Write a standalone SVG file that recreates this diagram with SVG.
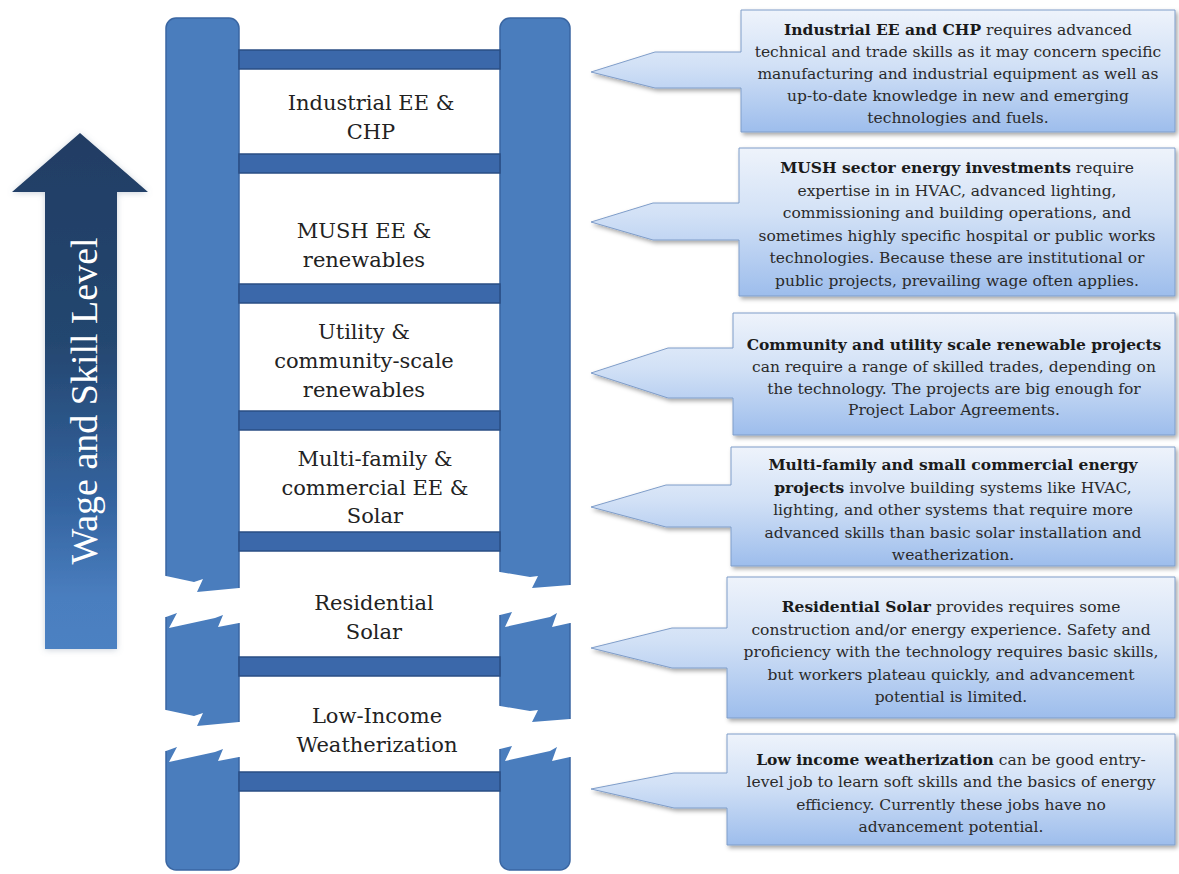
<svg xmlns="http://www.w3.org/2000/svg" width="1179" height="874" viewBox="0 0 1179 874">
<defs>
<linearGradient id="arrowGrad" gradientUnits="userSpaceOnUse" x1="0" y1="133" x2="0" y2="649">
<stop offset="0" stop-color="#203d64"/>
<stop offset="0.4" stop-color="#24466f"/>
<stop offset="0.72" stop-color="#3464a0"/>
<stop offset="0.9" stop-color="#4a7ebf"/>
<stop offset="1" stop-color="#4c81c2"/>
</linearGradient>
<linearGradient id="calloutGrad" x1="0" y1="0" x2="0" y2="1">
<stop offset="0" stop-color="#eef3fb"/>
<stop offset="0.45" stop-color="#d2e1f6"/>
<stop offset="1" stop-color="#9dbdec"/>
</linearGradient>
<filter id="shadow" x="-5%" y="-5%" width="115%" height="125%">
<feDropShadow dx="2" dy="2.5" stdDeviation="2" flood-color="#000" flood-opacity="0.35"/>
</filter>
<filter id="glow" x="-20%" y="-10%" width="140%" height="120%">
<feDropShadow dx="0" dy="1" stdDeviation="3" flood-color="#6b7f99" flood-opacity="0.35"/>
</filter>
</defs>
<style>
.rail{fill:#4a7dbd;stroke:#3a66a2;stroke-width:1.5}
.rung{fill:#3b68aa;stroke:#2a4e84;stroke-width:1.5}
.panel{fill:#ffffff}
.brk{fill:#ffffff}
.lbl{font-family:"DejaVu Serif",serif;font-size:21px;fill:#222;text-anchor:middle}
.co{fill:url(#calloutGrad);stroke:#7f9dc9;stroke-width:1;filter:url(#shadow)}
.ct{font-family:"DejaVu Serif",serif;font-size:15.5px;fill:#2a2a2a;text-anchor:middle}
.b{font-weight:bold;fill:#1a1a1a}
.axis{font-family:"Liberation Serif",serif;font-size:38px;fill:#ffffff;text-anchor:middle}
</style>
<rect width="1179" height="874" fill="#ffffff"/>

<g id="skill-arrow">
<path d="M80,133 L148,192 L117,192 L117,649 L45,649 L45,192 L12,192 Z" fill="url(#arrowGrad)" filter="url(#glow)"/>
<text class="axis" transform="translate(97,401) rotate(-90)">Wage and Skill Level</text>
</g>

<g id="ladder">
<rect class="rail" x="166" y="18" width="73" height="852" rx="10"/>
<rect class="rail" x="500" y="18" width="70" height="852" rx="10"/>
<path class="brk" d="M160,575 L166,576 L194,582 L203,579 L197,592 L239,588 L246,588 L246,623 L239,623 L218,627 L223,615 L215,618 L169,628 L177,613 L166,617 L160,617 Z"/>
<path class="brk" d="M494,571 L500,572 L530,577 L538,576 L532,588 L570,585 L576,585 L576,623 L570,623 L552,627 L557,613 L550,617 L505,627 L512,612 L500,615 L494,615 Z"/>
<path class="brk" d="M160,709 L166,710 L194,716 L203,713 L197,726 L239,722 L246,722 L246,757 L239,757 L218,761 L223,749 L215,752 L169,762 L177,747 L166,751 L160,751 Z"/>
<path class="brk" d="M494,705 L500,706 L530,711 L538,710 L532,722 L570,719 L576,719 L576,757 L570,757 L552,761 L557,747 L550,751 L505,761 L512,746 L500,749 L494,749 Z"/>
</g>

<g id="connectors">
<rect class="rung" x="239" y="50" width="261" height="19"/>
<rect class="rung" x="239" y="154" width="261" height="19"/>
<rect class="rung" x="239" y="284" width="261" height="19"/>
<rect class="rung" x="239" y="411" width="261" height="19"/>
<rect class="rung" x="239" y="532" width="261" height="19"/>
<rect class="rung" x="239" y="657" width="261" height="19"/>
<rect class="rung" x="239" y="772" width="261" height="19"/>
</g>

<g id="step-industrial">
<rect class="panel" x="240" y="70" width="259" height="83"/>
<text class="lbl" x="371" y="110">Industrial EE &amp;</text>
<text class="lbl" x="371" y="139">CHP</text>
</g>
<g id="step-mush">
<rect class="panel" x="240" y="174" width="259" height="109"/>
<text class="lbl" x="364" y="238">MUSH EE &amp;</text>
<text class="lbl" x="364" y="267">renewables</text>
</g>
<g id="step-utility">
<rect class="panel" x="240" y="304" width="259" height="106"/>
<text class="lbl" x="364" y="339">Utility &amp;</text>
<text class="lbl" x="364" y="368">community-scale</text>
<text class="lbl" x="364" y="397">renewables</text>
</g>
<g id="step-multifamily">
<rect class="panel" x="240" y="431" width="259" height="100"/>
<text class="lbl" x="375" y="466">Multi-family &amp;</text>
<text class="lbl" x="375" y="495">commercial EE &amp;</text>
<text class="lbl" x="375" y="523">Solar</text>
</g>
<g id="step-residential">
<rect class="panel" x="240" y="552" width="259" height="104"/>
<text class="lbl" x="374" y="610">Residential</text>
<text class="lbl" x="374" y="639">Solar</text>
</g>
<g id="step-lowincome">
<rect class="panel" x="240" y="677" width="259" height="94"/>
<text class="lbl" x="377" y="723">Low-Income</text>
<text class="lbl" x="377" y="752">Weatherization</text>
</g>

<g id="callout-industrial">
<path class="co" d="M741,10 H1175 V132 H741 V88 H655 L591,72 L655,52 H741 Z"/>
<text class="ct" x="958" y="35"><tspan class="b">Industrial EE and CHP</tspan> requires advanced</text>
<text class="ct" x="958" y="57">technical and trade skills as it may concern specific</text>
<text class="ct" x="958" y="79">manufacturing and industrial equipment as well as</text>
<text class="ct" x="958" y="101">up-to-date knowledge in new and emerging</text>
<text class="ct" x="958" y="123">technologies and fuels.</text>
</g>
<g id="callout-mush">
<path class="co" d="M739,148 H1175 V296 H739 V240 H653 L591,222 L653,203 H739 Z"/>
<text class="ct" x="957" y="173"><tspan class="b">MUSH sector energy investments</tspan> require</text>
<text class="ct" x="957" y="195.5">expertise in in HVAC, advanced lighting,</text>
<text class="ct" x="957" y="218">commissioning and building operations, and</text>
<text class="ct" x="957" y="240.5">sometimes highly specific hospital or public works</text>
<text class="ct" x="957" y="263">technologies. Because these are institutional or</text>
<text class="ct" x="957" y="285.5">public projects, prevailing wage often applies.</text>
</g>
<g id="callout-utility">
<path class="co" d="M733,313 H1175 V435 H733 V398 H668 L591,373 L668,348 H733 Z"/>
<text class="ct" x="954" y="350"><tspan class="b">Community and utility scale renewable projects</tspan></text>
<text class="ct" x="954" y="372">can require a range of skilled trades, depending on</text>
<text class="ct" x="954" y="393.5">the technology. The projects are big enough for</text>
<text class="ct" x="954" y="415">Project Labor Agreements.</text>
</g>
<g id="callout-multifamily">
<path class="co" d="M731,447 H1175 V566 H731 V527 H666 L591,507 L666,485 H731 Z"/>
<text class="ct" x="953" y="470"><tspan class="b">Multi-family and small commercial energy</tspan></text>
<text class="ct" x="953" y="492.5"><tspan class="b">projects</tspan> involve building systems like HVAC,</text>
<text class="ct" x="953" y="515">lighting, and other systems that require more</text>
<text class="ct" x="953" y="537.5">advanced skills than basic solar installation and</text>
<text class="ct" x="953" y="560">weatherization.</text>
</g>
<g id="callout-residential">
<path class="co" d="M727,577 H1175 V718 H727 V668 H672 L591,648 L672,628 H727 Z"/>
<text class="ct" x="951" y="612"><tspan class="b">Residential Solar</tspan> provides requires some</text>
<text class="ct" x="951" y="634.5">construction and/or energy experience. Safety and</text>
<text class="ct" x="951" y="657">proficiency with the technology requires basic skills,</text>
<text class="ct" x="951" y="679.5">but workers plateau quickly, and advancement</text>
<text class="ct" x="951" y="702">potential is limited.</text>
</g>
<g id="callout-lowincome">
<path class="co" d="M727,734 H1175 V845 H727 V808 H674 L591,789 L674,773 H727 Z"/>
<text class="ct" x="951" y="765"><tspan class="b">Low income weatherization</tspan> can be good entry-</text>
<text class="ct" x="951" y="787.3">level job to learn soft skills and the basics of energy</text>
<text class="ct" x="951" y="809.6">efficiency. Currently these jobs have no</text>
<text class="ct" x="951" y="832">advancement potential.</text>
</g>
</svg>
